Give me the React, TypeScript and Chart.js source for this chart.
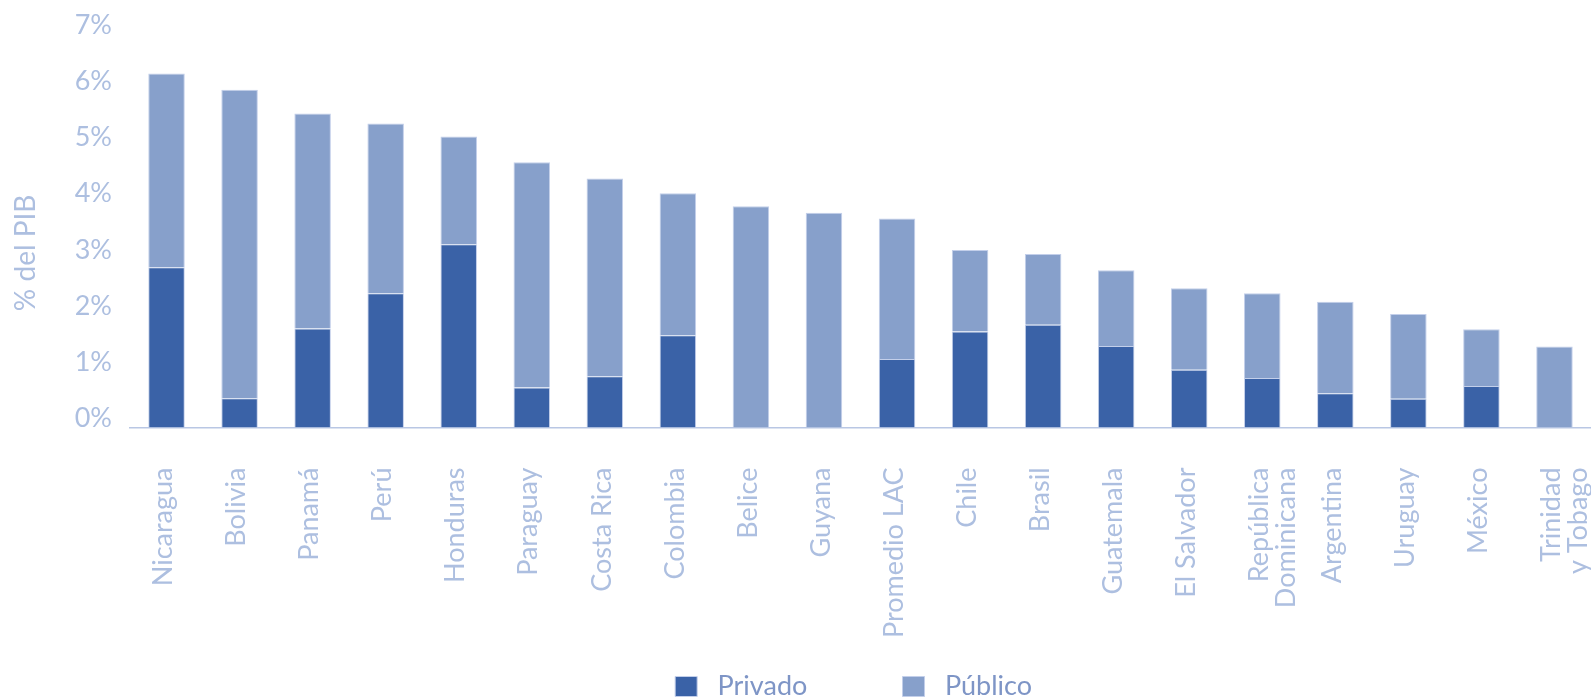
import React, { useEffect, useRef } from "react";
import { Chart, registerables } from "chart.js";

Chart.register(...registerables);

const categories: (string | string[])[] = [
  "Nicaragua", "Bolivia", "Panamá", "Perú", "Honduras", "Paraguay", "Costa Rica",
  "Colombia", "Belice", "Guyana", "Promedio LAC", "Chile", "Brasil", "Guatemala",
  "El Salvador", ["República", "Dominicana"], "Argentina", "Uruguay", "México",
  ["Trinidad", "y Tobago"],
];

const privado = [2.85, 0.52, 1.76, 2.39, 3.26, 0.71, 0.91, 1.64, 0, 0, 1.22, 1.71, 1.83, 1.45, 1.03, 0.88, 0.61, 0.51, 0.74, 0];
const publico = [3.45, 5.49, 3.83, 3.02, 1.92, 4.01, 3.52, 2.53, 3.94, 3.82, 2.5, 1.45, 1.26, 1.35, 1.45, 1.51, 1.63, 1.51, 1.01, 1.44];

const yTicks = [0, 1, 2, 3, 4, 5, 6, 7];
const yTitle = "% del PIB";
const seriesNames = ["Privado", "Público"];

const TICK_COLOR = "#adbfe0";
const LEGEND_COLOR = "#7e95c6";
const PRIV_COLOR = "#3a62a7";
const PUB_COLOR = "#87a0cb";

const yTitlePlugin = {
  id: "yTitlePlugin",
  afterDraw(chart: any) {
    const { ctx, chartArea } = chart;
    ctx.save();
    ctx.font = "28px Lato";
    ctx.fillStyle = TICK_COLOR;
    ctx.textAlign = "center";
    ctx.textBaseline = "middle";
    ctx.translate(26, (chartArea.top + chartArea.bottom) / 2 + 22);
    ctx.rotate(-Math.PI / 2);
    ctx.fillText(yTitle, 0, 0);
    ctx.restore();
  },
};

export default function App() {
  const ref = useRef<HTMLCanvasElement | null>(null);

  useEffect(() => {
    document.body.style.margin = "0";
    if (!ref.current) return;
    Chart.defaults.font.family = "Lato";
    const chart = new Chart(ref.current, {
      type: "bar",
      data: {
        labels: categories,
        datasets: [
          {
            label: seriesNames[0],
            data: privado,
            backgroundColor: PRIV_COLOR,
            borderColor: "#c3cfea",
            borderWidth: 1,
            barPercentage: 0.5,
            categoryPercentage: 1,
          },
          {
            label: seriesNames[1],
            data: publico,
            backgroundColor: PUB_COLOR,
            borderColor: "#c3cfea",
            borderWidth: 1,
            barPercentage: 0.5,
            categoryPercentage: 1,
          },
        ],
      },
      options: {
        animation: false,
        responsive: false,
        layout: { padding: { top: 32, left: 0, right: -3, bottom: -10 } },
        plugins: {
          tooltip: { enabled: false },
          legend: {
            position: "bottom",
            fullSize: false,
            labels: {
              color: LEGEND_COLOR,
              font: { size: 27, family: "Lato" },
              boxWidth: 22,
              boxHeight: 20,
              padding: 33,
              generateLabels: (c: any) => {
                const items = (Chart.defaults.plugins.legend.labels as any).generateLabels(c);
                const trailing = [9, 2];
                items.forEach((it: any, i: number) => {
                  it.text = " " + it.text + " ".repeat(trailing[i] || 0);
                });
                return items;
              },
            },
          },
        },
        scales: {
          x: {
            stacked: true,
            grid: { display: false, drawTicks: false },
            border: { display: true, color: "#b9c7e4", width: 1.5 },
            ticks: {
              color: TICK_COLOR,
              font: { size: 27, family: "Lato", lineHeight: 1.0 },
              maxRotation: 90,
              minRotation: 90,
              autoSkip: false,
              padding: 40,
              labelOffset: -3,
            },
            afterFit: (scale: any) => {
              scale.height = 212.5;
              scale.paddingLeft = 0;
              scale.paddingRight = 0;
            },
          },
          y: {
            stacked: true,
            min: 0,
            max: 7,
            grid: { display: false, drawTicks: false },
            border: { display: false },
            afterBuildTicks: (scale: any) => {
              scale.ticks = yTicks.map((v) => ({ value: v }));
            },
            ticks: {
              color: TICK_COLOR,
              font: { size: 27, family: "Lato" },
              padding: 18,
              labelOffset: -9,
              callback: (v: any) => v + "%",
            },
            afterFit: (scale: any) => {
              scale.width = 130;
            },
          },
        },
      },
      plugins: [yTitlePlugin],
    });
    return () => chart.destroy();
  }, []);

  return (
    <div style={{ width: 1591, height: 700 }}>
      <canvas ref={ref} width={1591} height={700} style={{ display: "block" }} />
    </div>
  );
}
